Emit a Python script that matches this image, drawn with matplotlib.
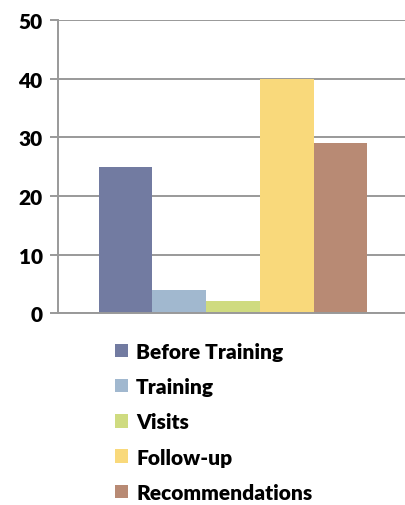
import matplotlib.pyplot as plt
from matplotlib.patches import Patch

categories = ['Before Training', 'Training', 'Visits', 'Follow-up', 'Recommendations']
values = [25, 4, 2, 40, 29]
colors = ['#727BA1', '#A1B8CF', '#CFDB80', '#F9D97B', '#B88A74']
y_ticks = [0, 10, 20, 30, 40, 50]

plt.rcParams['font.family'] = ['Lato', 'DejaVu Sans']
plt.rcParams['font.weight'] = 'bold'

fig = plt.figure(figsize=(4.05, 5.06), dpi=100)
ax = fig.add_axes([0.143, 0.379, 0.857, 0.5795])

x_values = list(range(len(categories)))
ax.bar(x_values, values, width=1.0, color=colors, zorder=2)

ax.set_ylim(0, 50)
ax.set_xlim(-1.26, 5.2)
ax.set_yticks(y_ticks)
ax.set_yticklabels([str(v) for v in y_ticks], fontsize=15, fontweight='heavy')
ax.set_xticks([])
ax.yaxis.grid(True, color='#999999', linewidth=1.4, zorder=1)
ax.tick_params(axis='y', length=6, width=1.4, color='#999999', pad=5)

for side in ['top', 'right']:
    ax.spines[side].set_visible(False)
ax.spines['left'].set_color('#999999')
ax.spines['left'].set_linewidth(1.4)
ax.spines['bottom'].set_color('#999999')
ax.spines['bottom'].set_linewidth(1.4)

handles = [Patch(facecolor=c, edgecolor='none') for c in colors]
fig.legend(handles, categories, loc='upper left', bbox_to_anchor=(0.263, 0.339),
           frameon=False, handlelength=0.62, handleheight=0.62,
           handletextpad=0.4, labelspacing=0.78, borderaxespad=0,
           prop={'weight': 'heavy', 'size': 15})

fig.savefig('out.png', dpi=100)
